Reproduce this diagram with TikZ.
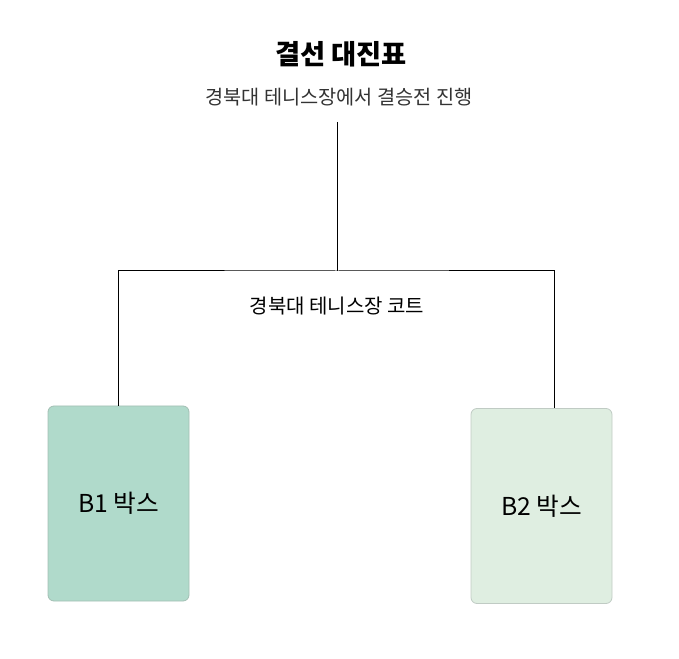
\documentclass[tikz,border=0pt]{standalone}
\usepackage{fontspec}
\setmainfont{Noto Sans CJK KR}
\usetikzlibrary{positioning}
\definecolor{SeedMint}{HTML}{B0DACB}
\definecolor{SeedMintEdge}{HTML}{A3BFB4}
\definecolor{SeedPale}{HTML}{DFEEE1}
\definecolor{SeedPaleEdge}{HTML}{C0CBC4}
\definecolor{InkGray}{HTML}{333333}
\colorlet{BracketLine}{black}

\begin{document}
\begin{tikzpicture}[
        x=0.75pt, y=-0.75pt,
        wire/.style={draw=BracketLine, line width=0.75pt},
        headline/.style={inner sep=0pt, font=\fontsize{20.5}{24}\selectfont\bfseries},
        subline/.style={inner sep=0pt, text=InkGray, font=\fontsize{14.8}{17}\selectfont},
        courtlabel/.style={inner sep=0pt, text=black, font=\fontsize{15}{18}\selectfont},
        seed/.style={rectangle, rounded corners=4.5pt, line width=0.6pt, inner sep=0pt,
            minimum width=105.75pt, minimum height=146.25pt, font=\fontsize{18.5}{21}\selectfont}
    ]

    % Canvas
    \useasboundingbox (0,0) rectangle (679,659);

    % Title
    \node[headline] (title) at (341,54) {결선 대진표};
    \node[subline] (venue) at (339,97) {경북대 테니스장에서 결승전 진행};

    % Seed boxes
    \node[seed, fill=SeedMint, draw=SeedMintEdge] (b1) at (118.5,503.5) {B1 박스};
    \node[seed, fill=SeedPale, draw=SeedPaleEdge] (b2) at (541.5,506) {B2 박스};

    % Bracket
    \coordinate (stem) at (337,122);
    \coordinate (split) at (337,271);
    \coordinate (b2in) at ([xshift=9.4pt]b2.north);
    \draw[wire] (stem) -- (split);
    \draw[wire] (b1.north) |- (split) -| (b2in);

    % Court label
    \node[courtlabel] (court) at (337,306) {경북대 테니스장 코트};

\end{tikzpicture}
\end{document}
